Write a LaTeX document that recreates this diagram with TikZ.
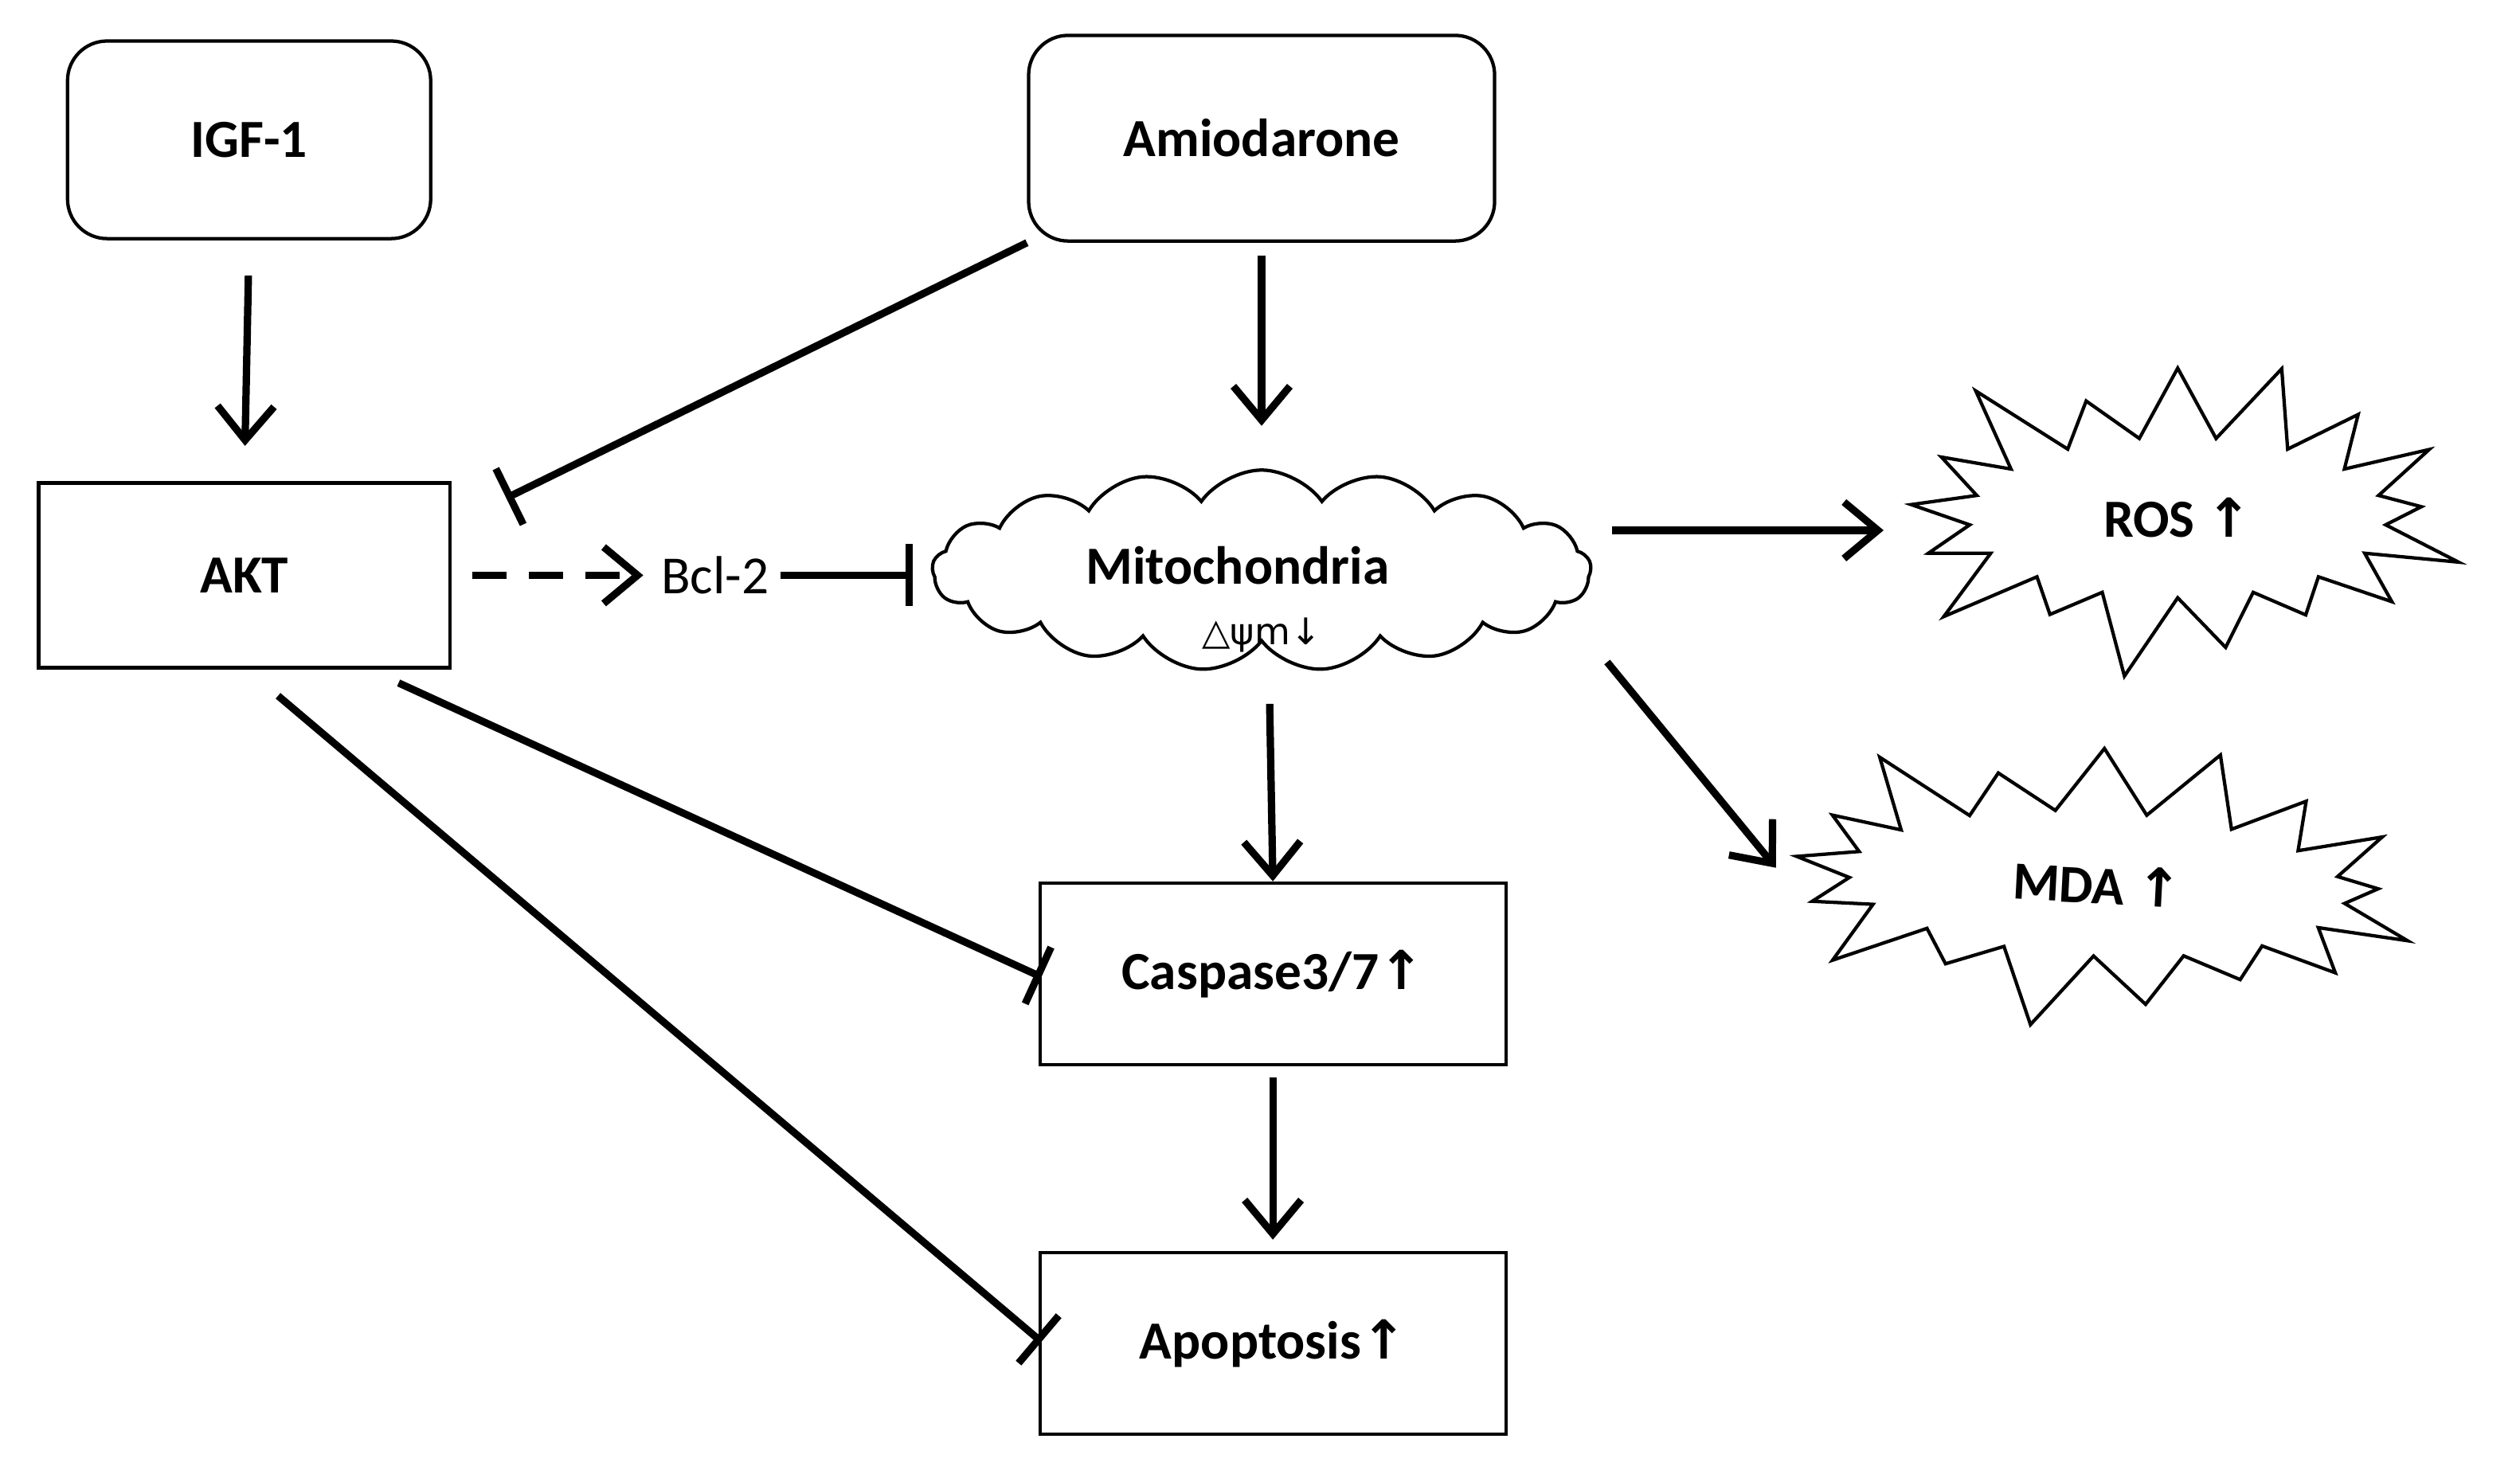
\documentclass[tikz,border=0pt]{standalone}
\usepackage{fontspec}
\setmainfont{Carlito}
\newfontfamily\dv{DejaVu Sans}
\usetikzlibrary{shapes.symbols,arrows.meta}
\begin{document}
\begin{tikzpicture}[x=0.02cm,y=-0.02cm,
  every node/.style={font=\fontsize{19}{22}\selectfont\bfseries},
  box/.style={draw,line width=1.2pt,minimum width=#1,inner sep=0pt},
  act/.style={line width=2.6pt,-{Straight Barb[length=12pt,width=20pt,line width=2.6pt]}},
  inh/.style={line width=2.6pt,-{Bar[width=22pt,line width=2.6pt]}}]
\useasboundingbox (0,0) rectangle (1568,917);
\node[box=4.52cm,minimum height=2.46cm,rounded corners=14pt] (igf) at (155,87) {IGF-1};
\node[box=5.8cm,minimum height=2.56cm,rounded corners=14pt] (amio) at (785,86) {Amiodarone};
\node[box=5.12cm,minimum height=2.3cm] (akt) at (152,358) {AKT};
\node[font=\fontsize{19}{22}\selectfont] (bcl) at (445,358) {Bcl-2};
\node[draw,line width=1.2pt,cloud,cloud puffs=17,cloud puff arc=110,aspect=3.3,minimum width=8.2cm,minimum height=2.5cm,inner sep=0pt] (mito) at (785,355) {};
\node (mt) at (770,352) {Mitochondria};
\node[font=\dv\fontsize{13}{16}\selectfont] (psi) at (785,395) {△ψm↓};
\node[draw,line width=1.2pt,starburst,starburst points=17,starburst point height=1.2cm,minimum width=7.6cm,minimum height=4.4cm,inner sep=0pt] (ros) at (1355,322) {ROS {\dv↑}};
\node[draw,line width=1.2pt,starburst,starburst points=17,starburst point height=1.1cm,minimum width=8.4cm,minimum height=4.0cm,inner sep=0pt,rotate=-3] (mda) at (1305,550) {MDA {\dv↑}};
\node[box=5.8cm,minimum height=2.26cm] (casp) at (792,606) {Caspase3/7{\dv↑}};
\node[box=5.8cm,minimum height=2.26cm] (apo) at (792,836) {Apoptosis{\dv↑}};
\coordinate (t1) at (315,310);
\coordinate (m1) at (1003,330);
\coordinate (m2) at (1000,412);
\coordinate (r1) at (1172,330);
\coordinate (d1) at (1105,540);
\coordinate (a1) at (248,425);
\coordinate (a2) at (173,433);
\coordinate (c1) at (648,608);
\coordinate (p1) at (648,835);
\draw[act,shorten <=0.44cm,shorten >=0.44cm] (igf.south) -- (akt.north);
\draw[act,shorten <=0.16cm,shorten >=0.6cm] (amio.south) -- (785,295);
\draw[inh] (amio.south west) -- (t1);
\draw[act,dashed,dash pattern=on 12pt off 8pt,shorten <=0.26cm,shorten >=0.1cm] (akt.east) -- (bcl.west);
\draw[inh,shorten <=0.02cm] (bcl.east) -- (568,358);
\draw[act] (m1) -- (r1);
\draw[act] (m2) -- (d1);
\draw[act] (790,438) -- (casp.north);
\draw[act,shorten <=0.14cm,shorten >=0.14cm] (casp.south) -- (apo.north);
\draw[inh] (a1) -- (c1);
\draw[inh] (a2) -- (p1);
\end{tikzpicture}
\end{document}
